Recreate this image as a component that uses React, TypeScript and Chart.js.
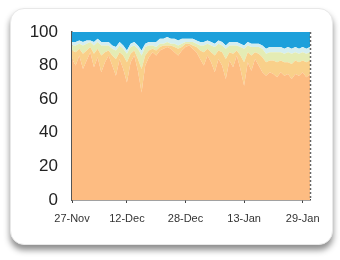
import React, { useEffect, useRef } from "react";
import { Chart, registerables } from "chart.js";

Chart.register(...registerables);

const days = [
  "27-Nov","28-Nov","29-Nov","30-Nov",
  "1-Dec","2-Dec","3-Dec","4-Dec","5-Dec","6-Dec","7-Dec","8-Dec","9-Dec","10-Dec",
  "11-Dec","12-Dec","13-Dec","14-Dec","15-Dec","16-Dec","17-Dec","18-Dec","19-Dec","20-Dec",
  "21-Dec","22-Dec","23-Dec","24-Dec","25-Dec","26-Dec","27-Dec","28-Dec","29-Dec","30-Dec","31-Dec",
  "1-Jan","2-Jan","3-Jan","4-Jan","5-Jan","6-Jan","7-Jan","8-Jan","9-Jan","10-Jan",
  "11-Jan","12-Jan","13-Jan","14-Jan","15-Jan","16-Jan","17-Jan","18-Jan","19-Jan","20-Jan",
  "21-Jan","22-Jan","23-Jan","24-Jan","25-Jan","26-Jan","27-Jan","28-Jan","29-Jan","30-Jan","31-Jan",
];

const shownDates = ["27-Nov", "12-Dec", "28-Dec", "13-Jan", "29-Jan"];
const yTicks = [0, 20, 40, 60, 80, 100];

const orange = [
  84, 80, 86, 78, 83, 88, 79, 85, 76, 82, 86,
  80, 74, 84, 78, 70, 82, 86, 77, 64, 80, 85, 88,
  86, 89, 90, 91, 90, 88, 86, 89, 91, 92, 90, 88, 84, 80, 86, 82,
  76, 84, 80, 72, 83, 79, 86, 78, 68, 82, 77, 84, 80, 76,
  74, 76, 75, 73, 76, 74, 75, 72, 75, 74, 76, 73, 75,
];
const yellow = [
  5, 8, 4, 9, 6, 3, 8, 5, 10, 6, 3,
  6, 10, 4, 8, 12, 5, 3, 7, 14, 6, 4, 2,
  3, 2, 2, 1, 2, 3, 4, 2, 2, 1, 2, 3, 5, 8, 4, 6,
  10, 5, 8, 12, 5, 8, 3, 8, 14, 6, 9, 4, 7, 9,
  8, 7, 8, 9, 7, 8, 7, 9, 8, 8, 7, 9, 8,
];
const green = [
  3, 4, 3, 5, 4, 3, 5, 4, 6, 4, 3,
  4, 5, 4, 4, 5, 4, 3, 6, 8, 5, 3, 2,
  2, 2, 1, 2, 1, 2, 2, 2, 1, 1, 2, 2, 3, 4, 3, 4,
  5, 4, 4, 6, 4, 5, 3, 5, 8, 4, 5, 3, 4, 5,
  5, 5, 5, 6, 5, 5, 6, 6, 5, 5, 5, 5, 5,
];
const cyan = [
  2, 2, 2, 2, 2, 1, 2, 2, 2, 2, 2,
  2, 2, 2, 2, 2, 2, 2, 2, 3, 2, 2, 2,
  3, 3, 3, 3, 3, 3, 3, 3, 2, 2, 2, 2, 2, 2, 2, 2,
  2, 2, 2, 2, 2, 2, 2, 2, 2, 2, 2, 2, 2, 2,
  3, 3, 3, 3, 3, 3, 3, 3, 3, 3, 3, 3, 3,
];
const blue = [
  6, 6, 5, 6, 5, 5, 6, 4, 6, 6, 6,
  8, 9, 6, 8, 11, 7, 6, 8, 11, 7, 6, 6,
  6, 4, 4, 3, 4, 4, 5, 4, 4, 4, 4, 5, 6, 6, 5, 6,
  7, 5, 6, 8, 6, 6, 6, 7, 8, 6, 7, 7, 7, 8,
  10, 9, 9, 9, 9, 10, 9, 10, 9, 10, 9, 10, 9,
];

const series = [
  { name: "A", data: orange, color: "#FDBC82" },
  { name: "B", data: yellow, color: "#F9D08A" },
  { name: "C", data: green, color: "#E4ECB4" },
  { name: "D", data: cyan, color: "#D4EEF0" },
  { name: "E", data: blue, color: "#1DA0DB" },
];

const rightDash = {
  id: "rightDash",
  afterDraw(chart: any) {
    const { ctx, chartArea } = chart;
    ctx.save();
    ctx.strokeStyle = "#666";
    ctx.lineWidth = 1.5;
    ctx.setLineDash([2, 2]);
    ctx.beginPath();
    ctx.moveTo(chartArea.right + 0.5, chartArea.top);
    ctx.lineTo(chartArea.right + 0.5, chartArea.bottom);
    ctx.stroke();
    ctx.restore();
  },
};

export default function App() {
  const ref = useRef<HTMLCanvasElement>(null);
  useEffect(() => {
    if (!ref.current) return;
    const chart = new Chart(ref.current, {
      type: "line",
      data: {
        labels: days,
        datasets: series.map((s, i) => ({
          label: s.name,
          data: s.data,
          backgroundColor: s.color,
          borderColor: s.color,
          borderWidth: 0,
          pointRadius: 0,
          tension: 0,
          fill: i === 0 ? "origin" : "-1",
        })),
      },
      options: {
        animation: false,
        responsive: false,
        maintainAspectRatio: false,
        layout: { padding: { top: 32, right: 30, left: 0, bottom: 0 } },
        plugins: { legend: { display: false }, tooltip: { enabled: false } },
        scales: {
          x: {
            type: "category",
            offset: false,
            afterBuildTicks: (scale: any) => {
              scale.ticks = scale.ticks.filter((t: any) =>
                shownDates.includes(days[t.value])
              );
            },
            afterFit: (scale: any) => {
              scale.height = 60;
            },
            ticks: {
              autoSkip: false,
              maxRotation: 0,
              color: "#333",
              padding: 9,
              font: { family: "Liberation Sans, Arial", size: 11 },
              callback: (v: any) => days[v],
            },
            grid: { display: true, drawOnChartArea: false, tickLength: 3, color: "#444" },
            border: { display: true, color: "#444", width: 1.5 },
          },
          y: {
            stacked: true,
            min: 0,
            max: 100,
            afterBuildTicks: (scale: any) => {
              scale.ticks = yTicks.map((v) => ({ value: v }));
            },
            afterFit: (scale: any) => {
              scale.width = 72;
            },
            ticks: {
              color: "#222",
              padding: 6,
              font: { family: "Liberation Sans, Arial", size: 17 },
            },
            grid: { display: false },
            border: { display: true, color: "#555", width: 1.5 },
          },
        },
      },
      plugins: [rightDash],
    });
    return () => chart.destroy();
  }, []);

  return (
    <div
      style={{
        position: "fixed",
        left: 0,
        top: 0,
        width: 340,
        height: 260,
        background: "#fff",
        filter: "blur(0.5px)",
      }}
    >
      <div
        style={{
          position: "absolute",
          left: 10,
          top: 8,
          width: 321,
          height: 235,
          borderRadius: 14,
          background: "#fff",
          border: "1px solid #e8e8e8",
          boxShadow: "0 5px 6px rgba(0,0,0,0.45)",
        }}
      />
      <canvas
        ref={ref}
        width={340}
        height={260}
        style={{ position: "absolute", left: 0, top: 0, width: 340, height: 260 }}
      />
    </div>
  );
}
